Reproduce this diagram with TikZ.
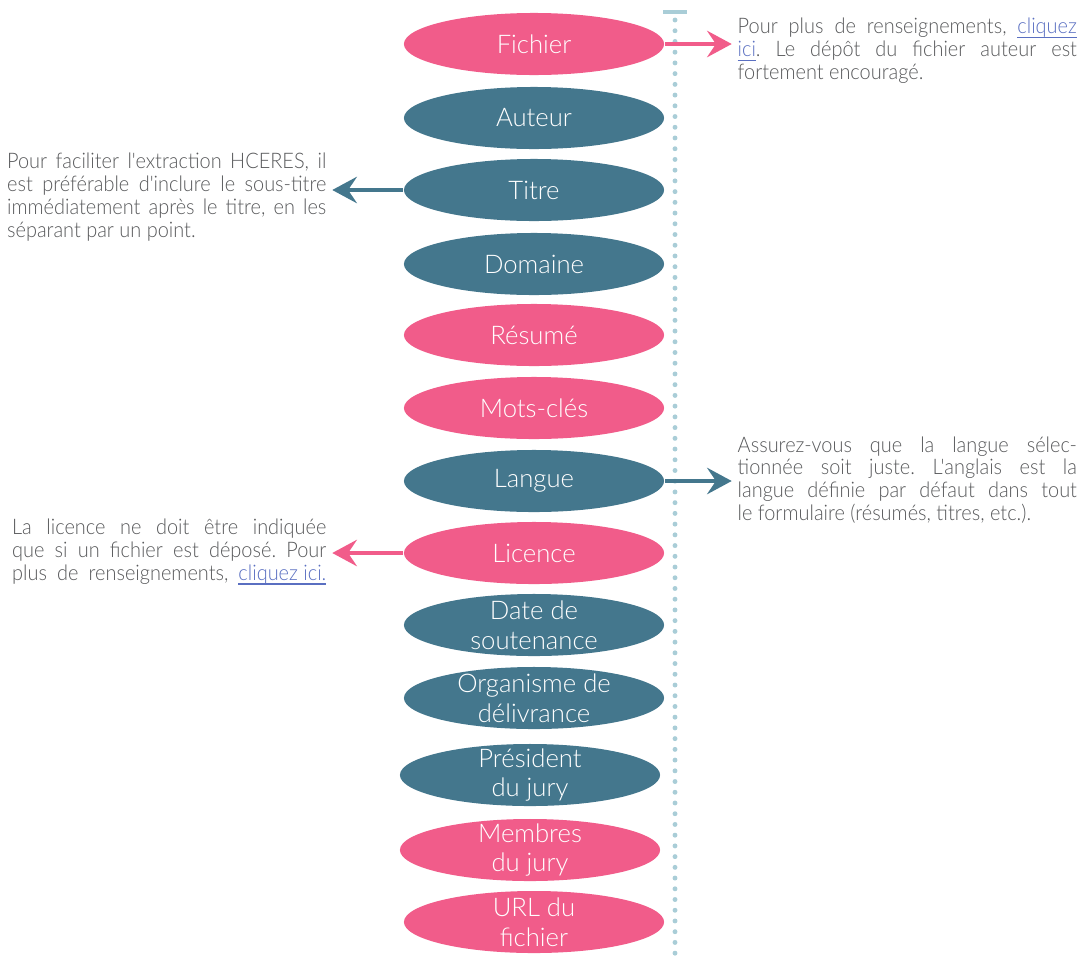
\documentclass[tikz,border=0pt]{standalone}
\usepackage{fontspec}
\setmainfont{Lato Light}[Ligatures=TeXOff]
\newfontfamily\notefont{Lato Light}[Ligatures=TeXOff,FakeStretch=0.93]
\usetikzlibrary{shapes.geometric,arrows.meta}
\definecolor{rose}{HTML}{F15C8A}
\definecolor{bleu}{HTML}{44778D}
\definecolor{pointille}{HTML}{A9CDD7}
\definecolor{gris}{HTML}{58595B}
\definecolor{lien}{HTML}{5A6FC1}
\newcommand{\clic}[1]{{\color{lien}\setbox0\hbox{#1}\rlap{\rule[-1.1pt]{\wd0}{0.3pt}}\box0}}

\begin{document}
\frenchspacing
\begin{tikzpicture}[x=0.01cm,y=-0.01cm,
	champ/.style={ellipse,fill=#1,minimum width=2.6cm,minimum height=0.62cm,inner sep=0pt},
	nom/.style={text=white,font=\fontsize{7.3}{8.5}\selectfont,align=center,inner sep=0pt},
	note/.style={text=gris,font=\notefont\fontsize{6.1}{6.5}\selectfont,text width=3.39cm,align=justify,inner sep=0pt},
	fleche/.style={line width=1.4pt,draw=#1,-{Stealth[length=7pt,width=7.5pt,inset=2.5pt]}}]
	\useasboundingbox (0,0) rectangle (1079,957);
	% axe pointille
	\draw[pointille,line width=1.4pt,line cap=round,dash pattern=on 0pt off 3.05pt] (675,20)--(675,957);
	\draw[pointille,line width=1.2pt] (663,12)--(687,12);
	% champs
	\node[champ=rose,label={[nom]center:Fichier}] (fichier) at (534,44) {};
	\node[champ=bleu,label={[nom]center:Auteur}] (auteur) at (534,118) {};
	\node[champ=bleu,label={[nom]center:Titre}] (titre) at (534,190) {};
	\node[champ=bleu,label={[nom]center:Domaine}] (domaine) at (534,264) {};
	\node[champ=rose,label={[nom]center:Résumé}] (resume) at (534,335) {};
	\node[champ=rose,label={[nom]center:Mots-clés}] (motscles) at (534,408) {};
	\node[champ=bleu,label={[nom]center:Langue}] (langue) at (534,481) {};
	\node[champ=rose,label={[nom]center:Licence}] (licence) at (534,553) {};
	\node[champ=bleu,label={[nom]center:{Date de\\soutenance}}] (date) at (534,625) {};
	\node[champ=bleu,label={[nom]center:{Organisme de\\délivrance}}] (organisme) at (534,698) {};
	\node[champ=bleu,label={[nom]center:{Président\\du jury}}] (president) at (530,775) {};
	\node[champ=rose,label={[nom]center:{Membres\\du jury}}] (membres) at (530,850) {};
	\node[champ=rose,label={[nom]center:{URL du\\fichier}}] (url) at (534,922) {};
	% remarques
	\node[note,anchor=west] (nfichier) at (737,51) {Pour plus de renseignements, \clic{cliquez}\linebreak
		\clic{ici}. Le dépôt du fichier auteur est\linebreak fortement encouragé.};
	\node[note,anchor=east,text width=3.19cm] (ntitre) at (327,197) {Pour faciliter l'extraction HCERES, il\linebreak
		est préférable d'inclure le sous-titre\linebreak immédiatement après le titre, en les\linebreak
		séparant par un point.};
	\node[note,anchor=west] (nlangue) at (737,480) {Assurez-vous que la langue sélec-\linebreak
		tionnée soit juste. L'anglais est la\linebreak langue définie par défaut dans tout\linebreak
		le formulaire (résumés, titres, etc.).};
	\node[note,anchor=east,text width=3.14cm] (nlicence) at (327,552) {La licence ne doit être indiquée\linebreak
		que si un fichier est déposé. Pour\linebreak plus de renseignements, \clic{cliquez ici.}\parfillskip=0pt\par};
	% fleches
	\draw[fleche=rose,shorten >=1.5pt] (fichier.east)--(fichier.east-|nfichier.west);
	\draw[fleche=bleu,shorten >=1.5pt] (titre.west)--(titre.west-|ntitre.east);
	\draw[fleche=bleu,shorten >=1.5pt] (langue.east)--(langue.east-|nlangue.west);
	\draw[fleche=rose,shorten >=1.5pt] (licence.west)--(licence.west-|nlicence.east);
\end{tikzpicture}
\end{document}
